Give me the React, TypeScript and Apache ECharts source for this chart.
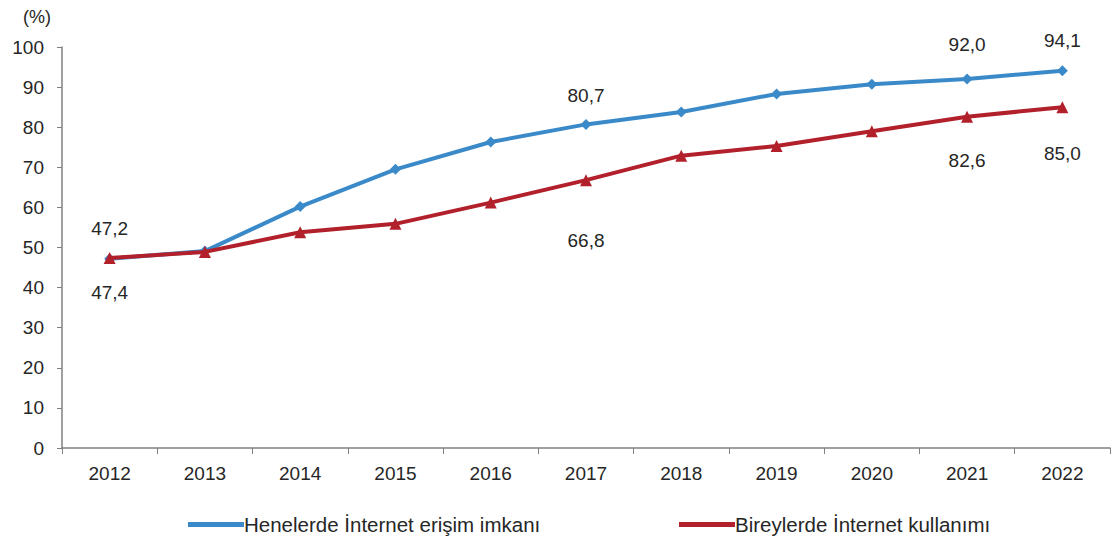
import React, { useEffect, useRef } from "react";
import * as echarts from "echarts";

const years = ["2012", "2013", "2014", "2015", "2016", "2017", "2018", "2019", "2020", "2021", "2022"];
const householdAccess = [47.2, 49.1, 60.2, 69.5, 76.3, 80.7, 83.8, 88.3, 90.7, 92.0, 94.1];
const individualUse = [47.4, 48.9, 53.8, 55.9, 61.2, 66.8, 72.9, 75.3, 79.0, 82.6, 85.0];
const yTicks = [0, 10, 20, 30, 40, 50, 60, 70, 80, 90, 100];
const seriesNames = ["Henelerde İnternet erişim imkanı", "Bireylerde İnternet kullanımı"];

// indices of points that carry a value label, and label distances (style)
const blueLabelled: Record<number, number> = { 0: 15, 5: 14, 9: 20, 10: 15 };
const redLabelled: Record<number, number> = { 0: 19, 5: 45, 9: 28, 10: 31 };

const FONT = "'Liberation Sans', Arial, sans-serif";
const BLUE = "#3A8AC9";
const RED = "#B2202B";
const TXT = "#262626";

const fmt = (v: number) => v.toFixed(1).replace(".", ",");

export default function App() {
  const ref = useRef<HTMLDivElement>(null);
  useEffect(() => {
    if (!ref.current) return;
    const chart = echarts.init(ref.current, null, { renderer: "svg" });
    const mk = (vals: number[], lab: Record<number, number>, pos: string) =>
      vals.map((v, i) =>
        lab[i] !== undefined
          ? {
              value: v,
              label: {
                show: true,
                position: pos,
                distance: lab[i],
                formatter: () => fmt(v),
                fontSize: 19,
                color: TXT,
                fontFamily: FONT,
              },
            }
          : { value: v }
      );
    const legendText = { fontSize: 20.5, color: TXT, fontFamily: FONT, padding: [0, 0, 0, -5] };
    chart.setOption({
      animation: false,
      backgroundColor: "#fff",
      grid: { left: 62, right: 4, top: 47, bottom: 91 },
      graphic: [
        {
          type: "text",
          left: 23,
          top: 8,
          style: { text: "(%)", fontSize: 18, fill: TXT, fontFamily: FONT },
        },
      ],
      legend: [
        {
          data: [seriesNames[0]],
          left: 183,
          top: 509,
          itemWidth: 56,
          itemHeight: 5,
          itemGap: 0,
          icon: "rect",
          textStyle: legendText,
        },
        {
          data: [seriesNames[1]],
          left: 674,
          top: 509,
          itemWidth: 56,
          itemHeight: 5,
          itemGap: 0,
          icon: "rect",
          textStyle: legendText,
        },
      ],
      xAxis: {
        type: "category",
        data: years,
        boundaryGap: true,
        axisLine: { lineStyle: { color: "#7f7f7f", width: 1.5 } },
        axisTick: { show: true, length: 6, lineStyle: { color: "#7f7f7f" } },
        axisLabel: { fontSize: 19, color: TXT, fontFamily: FONT, margin: 16 },
      },
      yAxis: {
        type: "value",
        min: yTicks[0],
        max: yTicks[yTicks.length - 1],
        interval: 10,
        splitLine: { show: false },
        axisLine: { show: true, lineStyle: { color: "#7f7f7f", width: 1.5 } },
        axisTick: { show: true, length: 5, lineStyle: { color: "#7f7f7f" } },
        axisLabel: { fontSize: 19, color: TXT, fontFamily: FONT, margin: 18 },
      },
      series: [
        {
          name: seriesNames[0],
          type: "line",
          data: mk(householdAccess, blueLabelled, "top"),
          symbol: "diamond",
          symbolSize: 11,
          lineStyle: { color: BLUE, width: 4 },
          itemStyle: { color: BLUE },
          z: 2,
        },
        {
          name: seriesNames[1],
          type: "line",
          data: mk(individualUse, redLabelled, "bottom"),
          symbol: "triangle",
          symbolSize: 12,
          lineStyle: { color: RED, width: 4 },
          itemStyle: { color: RED },
          z: 3,
        },
      ],
    });
    return () => chart.dispose();
  }, []);
  return <div ref={ref} style={{ width: 1114, height: 539, position: "absolute", left: 0, top: 0 }} />;
}
